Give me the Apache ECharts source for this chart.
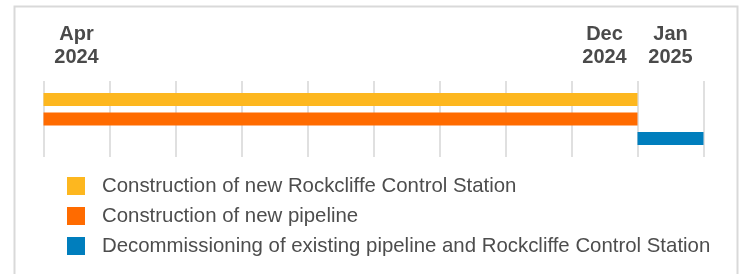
<!DOCTYPE html>
<html>
<head>
<meta charset="utf-8">
<script src="https://cdn.jsdelivr.net/npm/echarts@6/dist/echarts.min.js"></script>
<style>
html, body { margin: 0; padding: 0; background: #fff; }
#main { width: 742px; height: 274px; }
</style>
</head>
<body>
<div id="main"></div>
<script>
// months on the axis, one band per month
var months = ['Apr 2024', 'May 2024', 'Jun 2024', 'Jul 2024', 'Aug 2024', 'Sep 2024',
  'Oct 2024', 'Nov 2024', 'Dec 2024', 'Jan 2025'];
// only these ones get a label
var shownMonths = ['Apr 2024', 'Dec 2024', 'Jan 2025'];

var tasks = [
  'Construction of new Rockcliffe Control Station',
  'Construction of new pipeline',
  'Decommissioning of existing pipeline and Rockcliffe Control Station'
];
var taskStart = ['Apr 2024', 'Apr 2024', 'Jan 2025'];
var taskEnd = ['Dec 2024', 'Dec 2024', 'Jan 2025'];
var taskColors = ['#FDB71F', '#FF6B00', '#007EBD'];

var myChart = echarts.init(document.getElementById('main'));

function renderBar(params, api) {
  var row = api.value(0);
  var band = api.size([1, 0])[0];
  var p0 = api.coord([api.value(1), row]);
  var p1 = api.coord([api.value(2), row]);
  var h = 13;
  return {
    type: 'rect',
    shape: { x: p0[0] - band / 2, y: p0[1] - h / 2, width: p1[0] - p0[0] + band, height: h },
    style: { fill: api.visual('color') }
  };
}

var series = tasks.map(function (name, i) {
  return {
    name: name,
    type: 'custom',
    renderItem: renderBar,
    itemStyle: { color: taskColors[i] },
    encode: { x: [1, 2], y: 0 },
    data: [[i, months.indexOf(taskStart[i]), months.indexOf(taskEnd[i])]],
    silent: true
  };
});

var option = {
  animation: false,
  graphic: [{
    type: 'rect',
    shape: { x: 14.5, y: 6.5, width: 723, height: 300 },
    style: { fill: 'none', stroke: '#d9d9d9', lineWidth: 2 }
  }],
  grid: { left: 43.5, right: 38.5, top: 81, height: 76 },
  xAxis: {
    type: 'category',
    position: 'top',
    data: months,
    boundaryGap: true,
    axisLine: { show: false },
    axisTick: { show: false },
    splitLine: { show: true, lineStyle: { color: '#d6d6d6', width: 1.5 } },
    axisLabel: {
      interval: 0,
      margin: 12,
      color: '#4a4a4a',
      fontFamily: 'Liberation Sans',
      fontWeight: 'bold',
      fontSize: 20,
      lineHeight: 23,
      formatter: function (v) {
        return shownMonths.indexOf(v) >= 0 ? v.replace(' ', '\n') : '';
      }
    }
  },
  yAxis: {
    type: 'value',
    inverse: true,
    min: -0.95,
    max: 2.95,
    show: false
  },
  legend: {
    orient: 'vertical',
    left: 67,
    top: 176,
    padding: 0,
    itemWidth: 18,
    itemHeight: 18,
    itemGap: 10,
    icon: 'rect',
    selectedMode: false,
    data: tasks,
    textStyle: {
      fontFamily: 'Liberation Sans',
      fontSize: 20.4,
      lineHeight: 18,
      color: '#4d4d4d',
      padding: [0, 0, 0, 12]
    }
  },
  series: series
};

myChart.setOption(option);
</script>
</body>
</html>
